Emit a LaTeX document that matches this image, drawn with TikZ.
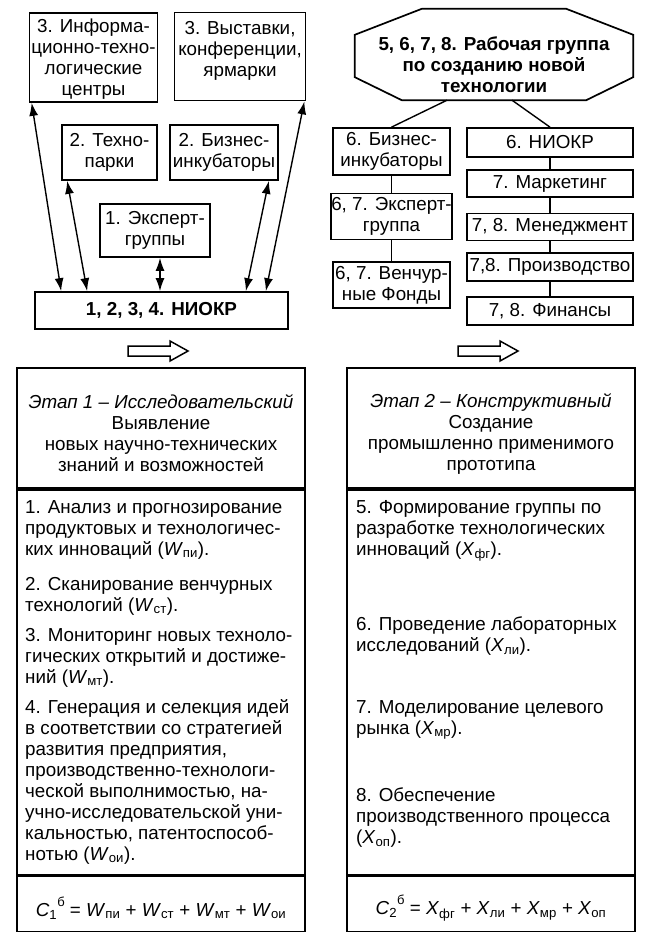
\documentclass[tikz,border=0pt]{standalone}
\usepackage{fontspec}
\setmainfont{Liberation Sans}
\usetikzlibrary{arrows.meta}
\newcommand{\ix}[2]{\textit{#1}\textsubscript{#2}}
\newcommand{\sumsup}{\raisebox{10pt}{\fontsize{13}{13}\selectfont б}}
\begin{document}
\begin{tikzpicture}[x=1pt,y=-1pt,>={Latex[length=13pt,width=9pt]},
  every node/.style={font=\fontsize{18.8}{21}\selectfont},
  bold/.style={font=\fontsize{18.8}{21}\selectfont\bfseries},
  box/.style={draw,line width=1.7pt,align=center,inner sep=0pt},
  para/.style={anchor=north west,align=left,inner sep=0pt},
  link/.style={<->,line width=1.4pt},
  tie/.style={line width=1.4pt},
  hollow/.style={line width=1.5pt,line join=miter}]
  \useasboundingbox (0,0) rectangle (647,944);
  \begin{scope}
    \node[box,minimum width=128pt,minimum height=89pt] (itc) at (93.5,57.5)
      {\rule{0pt}{17pt}3. Информа-\\ционно-техно-\\логические\\центры};
    \node[box,minimum width=131pt,minimum height=88pt] (expo) at (240,56.5)
      {3. Выставки,\\конференции,\\ярмарки\rule[-16pt]{0pt}{16pt}};
    \node[box,minimum width=95pt,minimum height=55pt] (tpark) at (109.5,152.5)
      {2. Техно-\\парки};
    \node[box,minimum width=108pt,minimum height=55pt] (bizinc) at (224,152.5)
      {2. Бизнес-\\инкубаторы};
    \node[box,minimum width=110pt,minimum height=53pt] (expert) at (155,230.5)
      {1. Эксперт-\\группы};
    \node[box,bold,minimum width=253pt,minimum height=37pt] (niokr) at (161.5,310.5)
      {1, 2, 3, 4. НИОКР};
    \draw[link] ([xshift=3pt]itc.south west) -- ([xshift=27pt]niokr.north west);
    \draw[link] ([xshift=6pt]tpark.south west) -- ([xshift=53pt]niokr.north west);
    \draw[link] ([xshift=5pt]expert.south) -- ([xshift=5pt]expert.south |- niokr.north);
    \draw[link] ([xshift=-10pt]bizinc.south east) -- ([xshift=-43pt]niokr.north east);
    \draw[link] ([xshift=-2pt]expo.south east) -- ([xshift=-23pt]niokr.north east);
    \draw[hollow] (128,346) -- (170,346) -- (170,341) -- (188,351) -- (170,361)
      -- (170,356) -- (128,356) -- cycle;
    \node[box,minimum width=288pt,minimum height=120pt] (head1) at (161,428)
      {\rule{0pt}{25pt}\textit{Этап 1 – Исследовательский}\\Выявление\\новых научно-технических\\знаний и возможностей};
    \node[box,minimum width=288pt,minimum height=385pt,anchor=north] (body1) at (head1.south) {};
    \node[box,minimum width=288pt,minimum height=55pt,anchor=north] (sum1) at (body1.south)
      {\rule{0pt}{28pt}\ix{C}{1}\sumsup{} = \ix{W}{пи} + \ix{W}{ст} + \ix{W}{мт} + \ix{W}{ои}};
    \node[para] (item1) at (25,500)
      {1. Анализ и прогнозирование\\продуктовых и технологичес-\\ких инноваций (\ix{W}{пи}).};
    \node[para] (item2) at (25,577)
      {2. Сканирование венчурных\\технологий (\ix{W}{ст}).};
    \node[para] (item3) at (25,628)
      {3. Мониторинг новых техноло-\\гических открытий и достиже-\\ний (\ix{W}{мт}).};
    \node[para] (item4) at (25,699)
      {4. Генерация и селекция идей\\в соответствии со стратегией\\развития предприятия,\\производственно-технологи-\\ческой выполнимостью, на-\\учно-исследовательской уни-\\кальностью, патентоспособ-\\нотью (\ix{W}{ои}).};
  \end{scope}
  \begin{scope}
    \node[bold,align=center,inner sep=0pt,minimum width=278pt,minimum height=91pt] (wg) at (494,54.5)
      {\rule{0pt}{35pt}5, 6, 7, 8. Рабочая группа\\по созданию новой\\технологии};
    \draw[line width=1.7pt] ([xshift=67pt]wg.north west) -- ([xshift=-67pt]wg.north east)
      -- ([yshift=-26pt]wg.north east) -- ([yshift=23pt]wg.south east)
      -- ([xshift=-47pt]wg.south east) -- ([xshift=47pt]wg.south west)
      -- ([yshift=23pt]wg.south west) -- ([yshift=-26pt]wg.north west) -- cycle;
    \node[box,minimum width=117pt,minimum height=47pt] (rbiz) at (391.5,151.5)
      {6. Бизнес-\\инкубаторы};
    \node[box,minimum width=115pt,minimum height=46pt] (rexp) at (391.5,216.5)
      {6, 7. Эксперт-\\группа};
    \node[box,minimum width=117pt,minimum height=46pt] (rfund) at (391.5,285)
      {6, 7. Венчур-\\ные Фонды};
    \node[box,minimum width=166pt,minimum height=29pt] (rniokr) at (550,142.5) {6. НИОКР};
    \node[box,minimum width=166pt,minimum height=27pt] (rmark) at (550,183.5) {7. Маркетинг};
    \node[box,minimum width=166pt,minimum height=27pt] (rmgmt) at (550,227) {7, 8. Менеджмент};
    \node[box,minimum width=166pt,minimum height=28pt] (rprod) at (550,267) {7,8. Производство};
    \node[box,minimum width=166pt,minimum height=28pt] (rfin) at (550,311) {7, 8. Финансы};
    \draw[tie] ([xshift=-47pt]wg.south) -- (rbiz.north);
    \draw[tie] ([xshift=18pt]wg.south) -- (rniokr.north);
    \foreach \a/\b in {rbiz/rexp,rexp/rfund,rniokr/rmark,rmark/rmgmt,rmgmt/rprod,rprod/rfin}
      \draw[tie] (\a.south) -- (\a.south |- \b.north);
    \draw[hollow] (458,346) -- (500,346) -- (500,341) -- (518,351) -- (500,361)
      -- (500,356) -- (458,356) -- cycle;
    \node[box,minimum width=288pt,minimum height=120pt] (head2) at (491,428)
      {\rule{0pt}{25pt}\textit{Этап 2 – Конструктивный}\\Создание\\промышленно применимого\\прототипа};
    \node[box,minimum width=288pt,minimum height=385pt,anchor=north] (body2) at (head2.south) {};
    \node[box,minimum width=288pt,minimum height=55pt,anchor=north] (sum2) at (body2.south)
      {\rule{0pt}{28pt}\ix{C}{2}\sumsup{} = \ix{X}{фг} + \ix{X}{ли} + \ix{X}{мр} + \ix{X}{оп}};
    \node[para] (item5) at (356,500)
      {5. Формирование группы по\\разработке технологических\\инноваций (\ix{X}{фг}).};
    \node[para] (item6) at (356,617)
      {6. Проведение лабораторных\\исследований (\ix{X}{ли}).};
    \node[para] (item7) at (356,700)
      {7. Моделирование целевого\\рынка (\ix{X}{мр}).};
    \node[para] (item8) at (356,788)
      {8. Обеспечение\\производственного процесса\\(\ix{X}{оп}).};
  \end{scope}
\end{tikzpicture}
\end{document}
